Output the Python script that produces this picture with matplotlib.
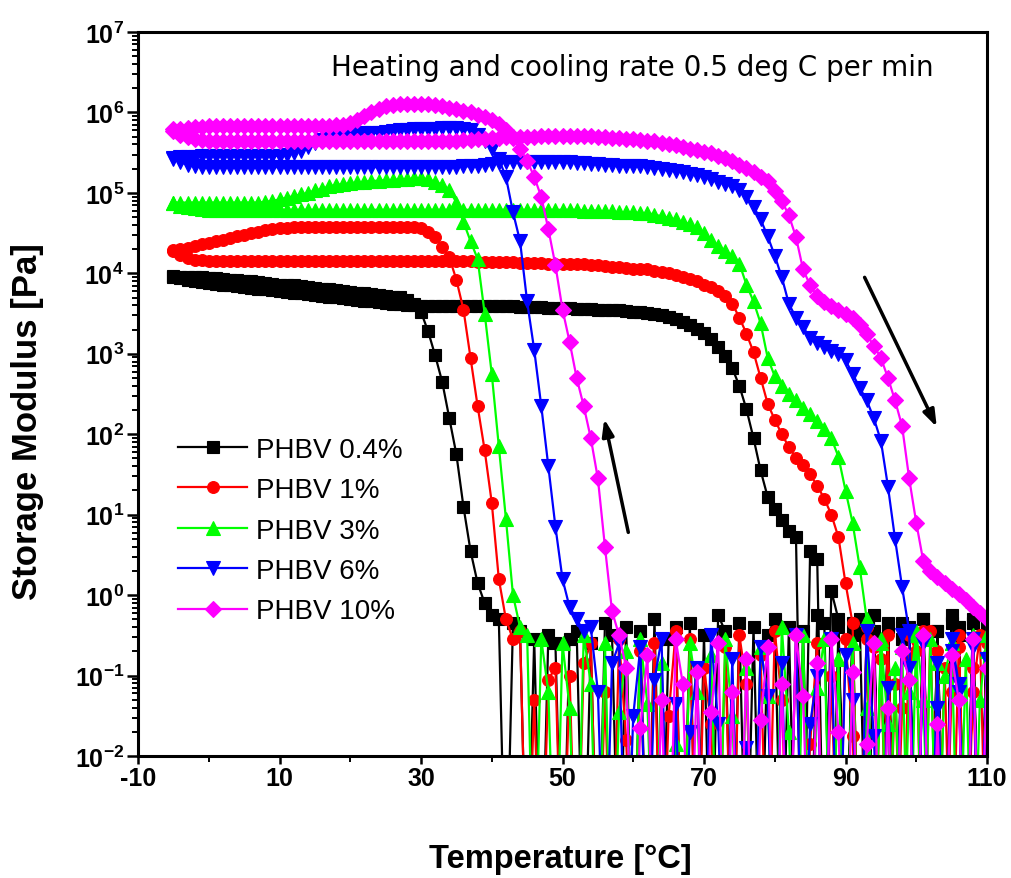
import numpy as np
import matplotlib
matplotlib.use("Agg")
import matplotlib.pyplot as plt
from matplotlib.ticker import LogLocator, FixedLocator, NullFormatter, LogFormatterSciNotation

plt.rcParams['font.family'] = ['Liberation Sans', 'DejaVu Sans']
plt.rcParams['axes.unicode_minus'] = False
plt.rcParams['mathtext.default'] = 'regular'

# ---------------- data ----------------
# temperature grid of the measurement points (deg C)
T_heat = np.arange(-5, 111)          # heating run -5 -> 110
T_cool = T_heat[::-1]                # cooling run 110 -> -5

labels = ["PHBV 0.4%", "PHBV 1%", "PHBV 3%", "PHBV 6%", "PHBV 10%"]

# log10 of storage modulus [Pa]; -4 = reading below detection (off scale)
logG_heat_04 = [
    3.95, 3.94, 3.92, 3.91, 3.89, 3.88, 3.87, 3.86, 3.85, 3.84,
    3.83, 3.82, 3.81, 3.80, 3.79, 3.78, 3.77, 3.76, 3.75, 3.74,
    3.73, 3.72, 3.71, 3.70, 3.69, 3.68, 3.67, 3.66, 3.65, 3.64,
    3.63, 3.62, 3.62, 3.61, 3.61, 3.60, 3.60, 3.60, 3.60, 3.60,
    3.60, 3.60, 3.60, 3.60, 3.59, 3.59, 3.59, 3.59, 3.59, 3.58,
    3.58, 3.58, 3.58, 3.57, 3.57, 3.57, 3.57, 3.56, 3.56, 3.56,
    3.55, 3.55, 3.54, 3.54, 3.53, 3.52, 3.52, 3.51, 3.50, 3.48,
    3.46, 3.43, 3.40, 3.36, 3.31, 3.26, 3.18, 3.08, 2.97, 2.82,
    2.60, 2.31, 1.95, 1.55, 1.22, 1.07, 0.93, 0.80, 0.72, -4,
    0.55, 0.45, -4, 0.05, -0.30, -4, -0.35, -4, -0.45, -0.25,
    -4, -0.40, -4, -0.35, -0.50, -4, -0.30, -4, -0.45, -4,
    -0.25, -0.40, -4, -0.35, -4, -0.45]
logG_cool_04 = [
    -0.40, -4, -0.30, -4, -0.50, -0.35, -4, -0.45, -4, -0.30,
    -4, -0.40, -0.55, -4, -0.35, -4, -0.45, -4, -0.30, -0.50,
    -4, -0.40, -4, -0.35, -0.25, -4, -0.45, -4, -0.40, -4,
    -0.30, -0.50, -4, -0.40, -4, -0.35, -4, -0.45, -0.25, -4,
    -0.50, -4, -0.35, -4, -0.40, -0.55, -4, -0.30, -4, -0.45,
    -4, -0.40, -4, -0.50, -0.35, -4, -0.60, -4, -0.45, -0.55,
    -4, -0.60, -0.50, -4, -0.55, -4, -0.45, -0.35, -4, -0.30,
    -0.25, -0.10, 0.15, 0.55, 1.10, 1.75, 2.20, 2.65, 2.98, 3.28,
    3.52, 3.62, 3.67, 3.70, 3.71, 3.72, 3.73, 3.74, 3.75, 3.76,
    3.77, 3.78, 3.79, 3.80, 3.81, 3.82, 3.83, 3.84, 3.85, 3.86,
    3.86, 3.87, 3.88, 3.89, 3.90, 3.91, 3.92, 3.92, 3.93, 3.94,
    3.94, 3.95, 3.95, 3.96, 3.96, 3.97]

logG_heat_1 = [
    4.28, 4.23, 4.19, 4.17, 4.16, 4.15, 4.15, 4.15, 4.15, 4.15,
    4.15, 4.15, 4.15, 4.15, 4.15, 4.15, 4.15, 4.15, 4.15, 4.15,
    4.15, 4.15, 4.15, 4.15, 4.15, 4.15, 4.15, 4.15, 4.15, 4.15,
    4.15, 4.15, 4.15, 4.15, 4.15, 4.15, 4.15, 4.15, 4.15, 4.15,
    4.15, 4.15, 4.15, 4.14, 4.14, 4.14, 4.14, 4.14, 4.14, 4.13,
    4.13, 4.13, 4.13, 4.12, 4.12, 4.12, 4.12, 4.11, 4.11, 4.10,
    4.10, 4.09, 4.08, 4.08, 4.07, 4.06, 4.05, 4.05, 4.03, 4.02,
    4.00, 3.98, 3.96, 3.93, 3.90, 3.86, 3.83, 3.78, 3.72, 3.62,
    3.45, 3.25, 3.02, 2.70, 2.38, 2.18, 2.00, 1.84, 1.71, 1.62,
    1.50, 1.36, 1.20, 1.00, 0.72, 0.15, -0.35, -4, -0.55, -4,
    -0.80, -4, -1.10, -4, -0.50, -0.70, -4, -0.45, -4, -0.90,
    -4, -0.65, -4, -1.20, -0.50, -4]
logG_cool_1 = [
    -0.60, -4, -0.90, -4, -0.50, -1.20, -4, -0.70, -4, -0.45,
    -4, -0.80, -1.40, -4, -0.50, -4, -0.65, -0.40, -4, -1.75,
    -0.55, -4, -1.00, -4, -0.60, -1.85, -4, -0.50, -4, -1.30,
    -0.45, -4, -0.75, -4, -1.10, -0.50, -4, -0.65, -4, -1.60,
    -0.90, -4, -0.55, -4, -0.45, -1.50, -4, -0.60, -4, -0.70,
    -4, -1.80, -0.55, -4, -1.20, -4, -0.60, -0.85, -4, -1.00,
    -4, -0.90, -1.05, -4, -1.30, -4, -0.45, -0.55, -0.30, 0.20,
    1.15, 1.80, 2.35, 2.95, 3.55, 3.92, 4.20, 4.33, 4.45, 4.52,
    4.56, 4.57, 4.57, 4.57, 4.57, 4.57, 4.57, 4.57, 4.57, 4.57,
    4.57, 4.57, 4.57, 4.57, 4.57, 4.57, 4.57, 4.57, 4.57, 4.56,
    4.56, 4.55, 4.54, 4.52, 4.50, 4.48, 4.46, 4.44, 4.42, 4.40,
    4.38, 4.36, 4.34, 4.32, 4.30, 4.29]

logG_heat_3 = [
    4.87, 4.84, 4.82, 4.81, 4.80, 4.79, 4.79, 4.79, 4.79, 4.79,
    4.79, 4.79, 4.79, 4.79, 4.79, 4.79, 4.79, 4.79, 4.79, 4.79,
    4.79, 4.79, 4.79, 4.79, 4.79, 4.79, 4.79, 4.79, 4.79, 4.79,
    4.79, 4.79, 4.79, 4.79, 4.79, 4.79, 4.79, 4.79, 4.79, 4.79,
    4.79, 4.79, 4.79, 4.79, 4.79, 4.79, 4.79, 4.79, 4.79, 4.79,
    4.79, 4.79, 4.79, 4.79, 4.79, 4.79, 4.79, 4.79, 4.78, 4.78,
    4.78, 4.77, 4.77, 4.76, 4.76, 4.76, 4.75, 4.75, 4.73, 4.71,
    4.69, 4.67, 4.64, 4.61, 4.57, 4.50, 4.42, 4.34, 4.28, 4.22,
    4.12, 3.86, 3.65, 3.38, 2.95, 2.72, 2.60, 2.50, 2.42, 2.33,
    2.25, 2.16, 2.07, 1.95, 1.72, 1.30, 0.90, 0.35, -0.30, -4,
    -0.60, -4, -0.90, -4, -1.20, -0.50, -4, -0.55, -4, -1.00,
    -0.60, -4, -0.80, -4, -1.30, -0.50]
logG_cool_3 = [
    -0.70, -4, -0.50, -4, -1.10, -0.60, -4, -0.85, -4, -1.30,
    -0.45, -4, -0.65, -4, -1.60, -0.55, -4, -1.40, -4, -0.60,
    -4, -0.80, -4, -0.55, -1.15, -4, -0.50, -4, -1.70, -0.40,
    -4, -1.25, -0.65, -4, -0.90, -4, -1.50, -0.55, -4, -0.75,
    -4, -1.20, -0.60, -4, -1.85, -4, -0.85, -4, -1.35, -0.55,
    -4, -0.70, -1.45, -4, -0.60, -4, -1.10, -0.50, -4, -1.40,
    -0.60, -4, -1.20, -0.55, -4, -0.50, -0.40, 0.00, 0.95, 1.85,
    2.75, 3.50, 4.18, 4.40, 4.64, 4.88, 5.04, 5.10, 5.14, 5.17,
    5.18, 5.18, 5.17, 5.17, 5.16, 5.16, 5.15, 5.15, 5.14, 5.13,
    5.12, 5.11, 5.10, 5.08, 5.05, 5.03, 5.00, 4.98, 4.96, 4.94,
    4.92, 4.90, 4.89, 4.88, 4.88, 4.88, 4.88, 4.88, 4.88, 4.88,
    4.88, 4.88, 4.88, 4.88, 4.88, 4.88]

logG_heat_6 = [
    5.42, 5.38, 5.35, 5.33, 5.32, 5.32, 5.32, 5.32, 5.32, 5.32,
    5.32, 5.32, 5.32, 5.32, 5.32, 5.32, 5.32, 5.32, 5.32, 5.32,
    5.32, 5.32, 5.32, 5.32, 5.32, 5.32, 5.32, 5.32, 5.32, 5.32,
    5.32, 5.32, 5.32, 5.32, 5.32, 5.32, 5.32, 5.32, 5.32, 5.32,
    5.32, 5.33, 5.33, 5.34, 5.35, 5.36, 5.37, 5.38, 5.38, 5.39,
    5.39, 5.39, 5.39, 5.38, 5.38, 5.38, 5.38, 5.37, 5.37, 5.36,
    5.36, 5.35, 5.35, 5.34, 5.34, 5.33, 5.33, 5.32, 5.31, 5.30,
    5.29, 5.27, 5.26, 5.24, 5.22, 5.20, 5.17, 5.14, 5.11, 5.08,
    5.03, 4.95, 4.83, 4.67, 4.46, 4.22, 3.95, 3.62, 3.45, 3.33,
    3.20, 3.13, 3.08, 3.04, 3.00, 2.92, 2.75, 2.58, 2.42, 2.20,
    1.92, 1.35, 0.70, 0.10, -0.45, -4, -0.60, -4, -0.85, -4,
    -0.55, -1.10, -4, -0.65, -4, -0.80]
logG_cool_6 = [
    -0.80, -4, -0.55, -4, -1.20, -0.70, -4, -1.40, -4, -0.60,
    -4, -0.90, -0.50, -4, -1.15, -4, -1.75, -0.45, -4, -1.30,
    -0.75, -4, -0.55, -4, -1.00, -1.60, -4, -0.50, -4, -0.85,
    -4, -1.25, -0.65, -4, -1.90, -4, -0.80, -4, -1.60, -0.50,
    -4, -0.90, -1.70, -4, -1.35, -4, -0.55, -1.05, -4, -0.65,
    -1.50, -4, -0.60, -0.85, -4, -1.20, -0.40, -0.45, -0.30, -0.15,
    0.20, 0.85, 1.60, 2.35, 3.05, 3.65, 4.40, 4.76, 5.20, 5.42,
    5.55, 5.65, 5.72, 5.78, 5.80, 5.81, 5.81, 5.81, 5.80, 5.80,
    5.79, 5.79, 5.78, 5.78, 5.77, 5.76, 5.75, 5.74, 5.74, 5.73,
    5.73, 5.73, 5.72, 5.70, 5.66, 5.62, 5.57, 5.52, 5.49, 5.47,
    5.46, 5.46, 5.46, 5.46, 5.46, 5.46, 5.46, 5.46, 5.46, 5.46,
    5.46, 5.46, 5.45, 5.45, 5.44, 5.43]

logG_heat_10 = [
    5.77, 5.72, 5.69, 5.67, 5.66, 5.65, 5.65, 5.65, 5.65, 5.65,
    5.65, 5.65, 5.65, 5.65, 5.65, 5.65, 5.65, 5.65, 5.65, 5.65,
    5.65, 5.65, 5.65, 5.65, 5.65, 5.65, 5.65, 5.65, 5.65, 5.65,
    5.65, 5.65, 5.65, 5.65, 5.65, 5.65, 5.65, 5.65, 5.65, 5.65,
    5.65, 5.66, 5.66, 5.67, 5.67, 5.68, 5.68, 5.69, 5.69, 5.70,
    5.70, 5.70, 5.71, 5.71, 5.71, 5.71, 5.71, 5.71, 5.71, 5.71,
    5.69, 5.69, 5.68, 5.68, 5.67, 5.67, 5.66, 5.65, 5.64, 5.62,
    5.61, 5.59, 5.57, 5.55, 5.53, 5.51, 5.49, 5.46, 5.43, 5.40,
    5.35, 5.31, 5.26, 5.20, 5.15, 5.02, 4.90, 4.72, 4.45, 4.05,
    3.85, 3.72, 3.64, 3.60, 3.55, 3.50, 3.45, 3.36, 3.24, 3.10,
    2.95, 2.70, 2.42, 2.10, 1.45, 0.90, 0.42, 0.30, 0.22, 0.15,
    0.08, 0.02, -0.06, -0.15, -0.22, -0.30]
logG_cool_10 = [
    -0.90, -4, -0.55, -4, -1.30, -0.75, -4, -1.60, -4, -0.50,
    -4, -1.05, -0.70, -4, -1.40, -4, -0.60, -1.85, -4, -0.95,
    -4, -1.70, -0.55, -4, -0.85, -4, -1.25, -0.50, -4, -1.10,
    -4, -0.65, -1.55, -4, -0.80, -4, -1.20, -4, -0.60, -1.45,
    -4, -0.95, -4, -1.10, -0.55, -4, -1.30, -4, -0.75, -1.65,
    -4, -0.90, -0.50, -0.20, 0.60, 1.45, 1.95, 2.35, 2.70, 3.15,
    3.55, 4.10, 4.55, 4.95, 5.20, 5.40, 5.55, 5.68, 5.78, 5.86,
    5.90, 5.94, 5.97, 6.00, 6.02, 6.04, 6.06, 6.08, 6.09, 6.10,
    6.10, 6.10, 6.10, 6.10, 6.09, 6.08, 6.04, 6.00, 5.95, 5.91,
    5.87, 5.85, 5.84, 5.83, 5.83, 5.83, 5.83, 5.83, 5.83, 5.83,
    5.83, 5.83, 5.83, 5.83, 5.83, 5.83, 5.83, 5.83, 5.83, 5.83,
    5.83, 5.82, 5.82, 5.81, 5.80, 5.79]

heat_series = [logG_heat_04, logG_heat_1, logG_heat_3, logG_heat_6, logG_heat_10]
cool_series = [logG_cool_04, logG_cool_1, logG_cool_3, logG_cool_6, logG_cool_10]

# ---------------- style ----------------
colors = ['#000000', '#FF0000', '#00FF00', '#0000FF', '#FF00FF']
markers = ['s', 'o', '^', 'v', 'D']
msizes = [8, 8.5, 10, 10, 8.5]

annotation_text = "Heating and cooling rate 0.5 deg C per min"
heat_arrow = ((92.7, 10**3.95), (102.9, 10**2.09))
cool_arrow = ((59.3, 10**0.78), (55.9, 10**2.19))

fig = plt.figure(figsize=(10.11, 8.79), dpi=100)
ax = fig.add_axes([138/1011, 1-757/879, (987-138)/1011, (757-33)/879])

for hs, cs, c, m, ms, lab in zip(heat_series, cool_series, colors, markers, msizes, labels):
    x = np.concatenate([T_heat, T_cool])
    y = 10.0 ** np.concatenate([np.array(hs), np.array(cs)])
    ax.plot(x, y, color=c, marker=m, markersize=ms, markeredgewidth=0.8,
            markeredgecolor=c, lw=1.6, label=lab)

ax.set_yscale('log')
ax.set_xlim(-10, 110)
ax.set_ylim(1e-2, 1e7)

ax.xaxis.set_major_locator(FixedLocator([-10, 10, 30, 50, 70, 90, 110]))
ax.xaxis.set_minor_locator(FixedLocator([0, 20, 40, 60, 80, 100]))
ax.yaxis.set_major_locator(LogLocator(base=10, numticks=20))
ax.yaxis.set_minor_locator(LogLocator(base=10, subs=np.arange(2, 10), numticks=20))
ax.yaxis.set_minor_formatter(NullFormatter())
ax.yaxis.set_major_formatter(LogFormatterSciNotation())

for s in ax.spines.values():
    s.set_linewidth(2.2)
ax.tick_params(which='major', direction='out', width=1.8,
               labelsize=18, top=False, right=False)
ax.tick_params(axis='y', which='major', length=8, pad=2)
ax.tick_params(axis='x', which='major', length=6, pad=1)
ax.tick_params(which='minor', direction='out', length=4, width=1.4,
               top=False, right=False)
for lbl in ax.get_xticklabels() + ax.get_yticklabels():
    lbl.set_fontweight('bold')

fig.text(28/1011, 1-422/879, "Storage Modulus [Pa]", rotation=90,
         ha='center', va='center', fontsize=25, fontweight='bold')
fig.text(560/1011, 1-860/879, "Temperature [°C]", ha='center', va='center',
         fontsize=23.5, fontweight='bold')

ax.text(0.582, 0.952, annotation_text, transform=ax.transAxes, ha='center',
        va='center', fontsize=20, family='DejaVu Sans')

for (p0, p1) in (heat_arrow, cool_arrow):
    ax.annotate('', xy=p1, xytext=p0,
                arrowprops=dict(arrowstyle='-|>,head_length=1.0,head_width=0.35',
                                color='black', lw=2.5, shrinkA=0, shrinkB=0))

ax.legend(loc='upper left', bbox_to_anchor=(0.047, 0.441), frameon=False,
          fontsize=20, handlelength=2.5, handletextpad=0.3, labelspacing=0.52,
          borderpad=0, borderaxespad=0)

fig.savefig('out.png', dpi=100)
